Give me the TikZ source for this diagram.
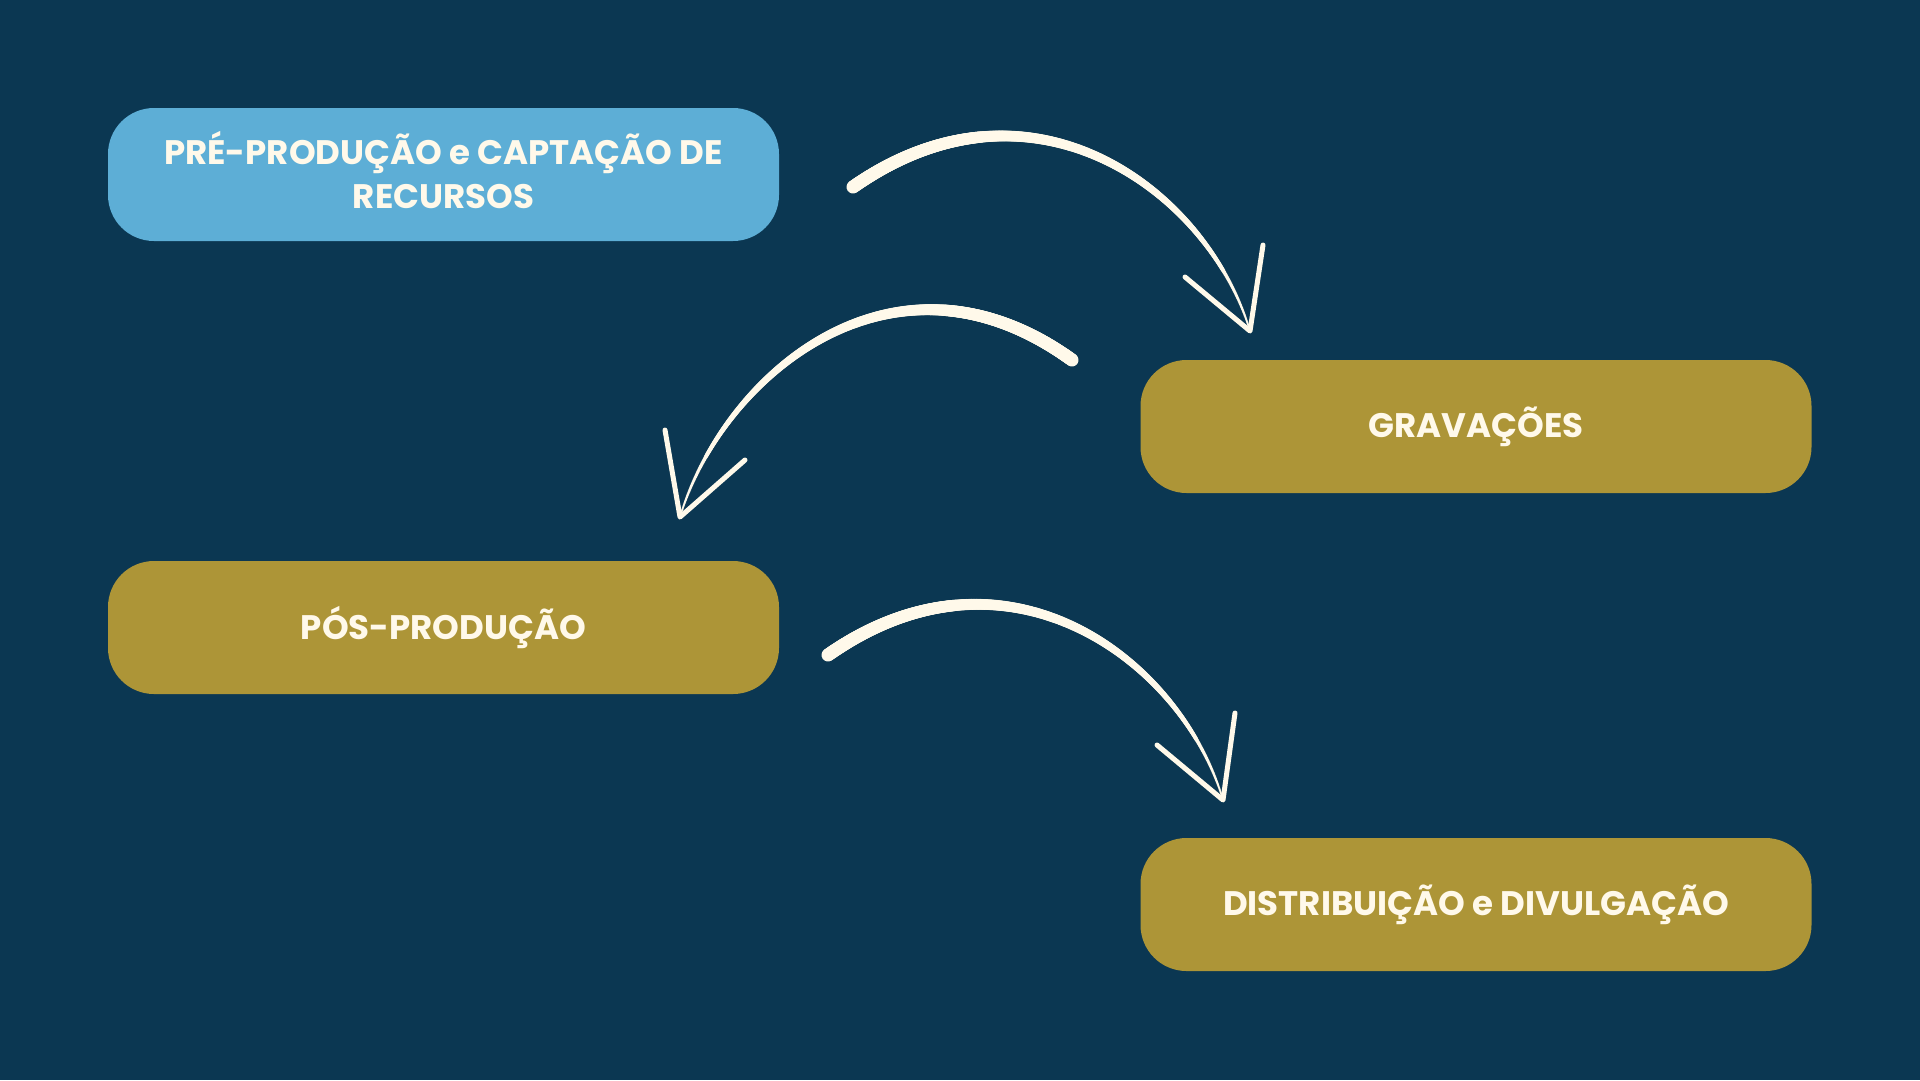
\documentclass[tikz,border=0pt]{standalone}
\usepackage{fontspec}
\setmainfont{Poppins}
\usetikzlibrary{decorations.markings}
\definecolor{bg}{HTML}{0B3752}
\definecolor{sky}{HTML}{5DAED6}
\definecolor{gold}{HTML}{AD9537}
\definecolor{cream}{HTML}{FFF9EA}
\tikzset{
  boxtext/.style={inner sep=0pt, align=center, text=cream,
    font=\bfseries\fontsize{34}{44}\selectfont},
  box/.style={boxtext, rounded corners=46pt, minimum width=671pt, minimum height=133pt},
  taper/.style={decorate, decoration={markings,
    mark=between positions 0 and 1 step 0.8pt with {
      \pgfmathsetmacro\rr{0.8+5.7*(1-((\pgfkeysvalueof{/pgf/decoration/mark info/distance from start})/(\pgfdecoratedpathlength))^1.5)}
      \fill[cream] (0pt,0pt) circle[radius=\rr pt];
    }}},
  barb/.style={draw=cream, line width=5pt, line cap=round, line join=round},
}
\begin{document}
\begin{tikzpicture}[x=1pt,y=-1pt]
\fill[bg] (0,0) rectangle (1920,1080);
\useasboundingbox (0,0) rectangle (1920,1080);

\node[box, fill=sky]  (pre)  at (443.5,174.5) {};
\node[boxtext] (pretext) at (443.5,170.5) {PRÉ-PRODUÇÃO e CAPTAÇÃO DE\\RECURSOS};
\node[box, fill=gold] (grav) at (1476,426.5) {GRAVAÇÕES};
\node[box, fill=gold] (pos)  at (443.5,627.5) {PÓS-PRODUÇÃO};
\node[box, fill=gold] (dist) at (1476,904.5) {DISTRIBUIÇÃO e DIVULGAÇÃO};

% arrow 1
\coordinate (s1) at (853,187);
\coordinate (t1) at (1250,331);
\coordinate (b1a) at (1185,277);
\coordinate (b1b) at (1263,245);
\path[taper] (s1) .. controls (1033,61) and (1208,191) .. (t1);
\draw[barb] (b1a) -- (t1) -- (b1b);

% arrow 2
\coordinate (s2) at (1072,360);
\coordinate (t2) at (680,517);
\coordinate (b2a) at (665,430);
\coordinate (b2b) at (745,460);
\path[taper] (s2) .. controls (892,230) and (722,377) .. (t2);
\draw[barb] (b2a) -- (t2) -- (b2b);

% arrow 3
\coordinate (s3) at (828,655);
\coordinate (t3) at (1223,800);
\coordinate (b3a) at (1157,745);
\coordinate (b3b) at (1235,713);
\path[taper] (s3) .. controls (1008,529) and (1182,661) .. (t3);
\draw[barb] (b3a) -- (t3) -- (b3b);
\end{tikzpicture}
\end{document}
